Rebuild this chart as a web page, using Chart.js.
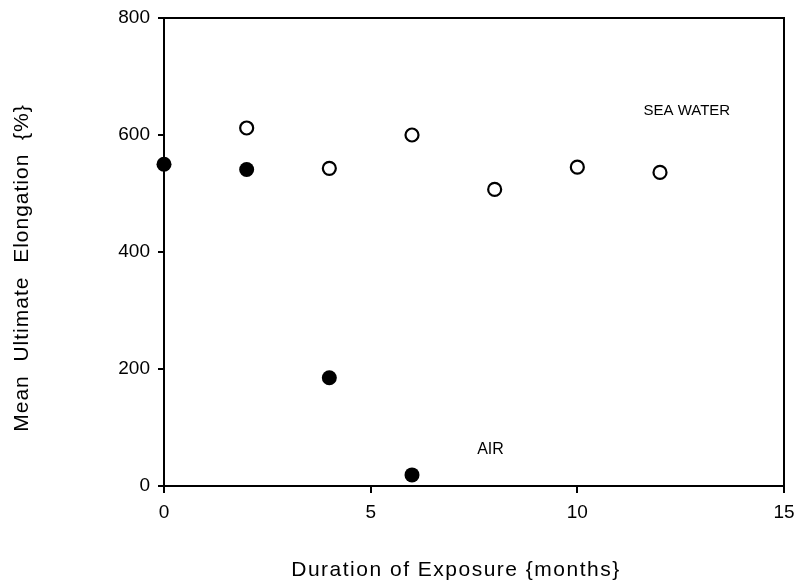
<!DOCTYPE html>
<html>
<head>
<meta charset="utf-8">
<script src="https://cdn.jsdelivr.net/npm/chart.js@4/dist/chart.umd.min.js"></script>
<style>
  html, body { margin: 0; padding: 0; background: #fff; }
  #wrap { width: 798px; height: 584px; position: relative; }
</style>
</head>
<body>
<div id="wrap"><canvas id="c"></canvas></div>
<script>
// Elongation vs exposure time, two conditions
const airMonths = [0, 2, 4, 6];
const airElong = [550, 541, 185, 19];
const seaMonths = [2, 4, 6, 8, 10, 12];
const seaElong = [612, 543, 600, 507, 545, 536];

const xTicks = [0, 5, 10, 15];
const yTicks = [0, 200, 400, 600, 800];

// in-plot labels: text, x (months), y (%)
const labelText = ['SEA WATER', 'AIR'];
const labelX = [12.65, 7.9];
const labelY = [641, 63];

const FONT = '"Liberation Sans", Arial, Helvetica, sans-serif';

const pts = (xs, ys) => xs.map((x, i) => ({ x, y: ys[i] }));

// box around the plot + axis titles + in-plot labels
const decor = {
  id: 'decor',
  afterDraw(chart) {
    const { ctx, chartArea: a, scales } = chart;
    ctx.save();
    ctx.strokeStyle = '#000';
    ctx.lineWidth = 2;
    ctx.strokeRect(a.left, a.top, a.right - a.left, a.bottom - a.top);

    ctx.fillStyle = '#000';
    ctx.textAlign = 'center';
    ctx.textBaseline = 'middle';
    labelText.forEach((t, i) => {
      ctx.font = (i === 0 ? '15px ' : '16px ') + FONT;
      ctx.fillText(t, scales.x.getPixelForValue(labelX[i]), scales.y.getPixelForValue(labelY[i]));
    });

    ctx.font = '21px ' + FONT;
    ctx.letterSpacing = '1.5px';
    ctx.fillText('Duration of Exposure {months}', 456, 570);
    ctx.letterSpacing = '1px';
    ctx.translate(22, 268);
    ctx.rotate(-Math.PI / 2);
    ctx.fillText('Mean  Ultimate  Elongation  {%}', 0, 0);
    ctx.restore();
  }
};

new Chart(document.getElementById('c'), {
  type: 'scatter',
  data: {
    datasets: [
      {
        label: 'AIR',
        data: pts(airMonths, airElong),
        pointRadius: 7.5,
        pointBackgroundColor: '#000',
        pointBorderColor: '#000',
        pointBorderWidth: 0,
        clip: false
      },
      {
        label: 'SEA WATER',
        data: pts(seaMonths, seaElong),
        pointRadius: 6.5,
        pointBackgroundColor: '#fff',
        pointBorderColor: '#000',
        pointBorderWidth: 2.2,
        clip: false
      }
    ]
  },
  options: {
    responsive: true,
    maintainAspectRatio: false,
    animation: false,
    layout: { padding: { top: 18, right: 14, left: 0, bottom: 0 } },
    plugins: { legend: { display: false }, tooltip: { enabled: false } },
    scales: {
      x: {
        type: 'linear', min: 0, max: 15,
        afterBuildTicks: s => { s.ticks = xTicks.map(v => ({ value: v })); },
        afterFit: s => { s.height = 98; s.paddingRight = 0; s.paddingLeft = 0; },
        border: { display: true, color: '#000', width: 2 },
        grid: { drawOnChartArea: false, drawTicks: true, tickLength: 7, color: '#000', lineWidth: 2 },
        ticks: { color: '#000', padding: 8, maxRotation: 0, font: { family: FONT, size: 19 } }
      },
      y: {
        type: 'linear', min: 0, max: 800,
        afterBuildTicks: s => { s.ticks = yTicks.map(v => ({ value: v })); },
        afterFit: s => { s.width = 164; s.paddingTop = 0; s.paddingBottom = 0; },
        border: { display: true, color: '#000', width: 2 },
        grid: { drawOnChartArea: false, drawTicks: true, tickLength: 6, color: '#000', lineWidth: 2 },
        ticks: { color: '#000', padding: 8, font: { family: FONT, size: 19 } }
      }
    }
  },
  plugins: [decor]
});
</script>
</body>
</html>
